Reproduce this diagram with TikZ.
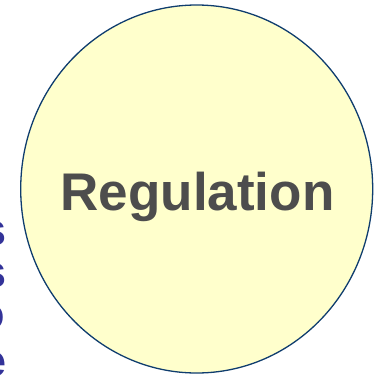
\documentclass[tikz,border=0pt]{standalone}
\usepackage{fontspec}
\usetikzlibrary{shapes.geometric}
\setmainfont{Liberation Sans}
\definecolor{circfill}{HTML}{FFFFCC}
\definecolor{circline}{HTML}{0F3D6E}
\definecolor{labgray}{HTML}{4D4D4D}
\definecolor{sidetext}{HTML}{333399}
\begin{document}
\begin{tikzpicture}[x=1pt,y=1pt,
  sidechar/.style={anchor=base east,inner sep=0pt,text=sidetext,font=\fontsize{45}{50}\selectfont\bfseries}]
\useasboundingbox (0,0) rectangle (382,376);
\clip (0,0) rectangle (382,376);
\node[draw=circline,line width=1.3pt,fill=circfill,ellipse,minimum width=352pt,minimum height=368pt,inner sep=0pt] (c) at (196.7,187) {};
\path (c.center) ++(0.8,-21) node[anchor=base,inner sep=0pt,text=labgray,font=\fontsize{53}{60}\selectfont\bfseries] (reg) {Regulation};
\node[sidechar] (s1) at (6.5,131) {s};
\node[sidechar] (s2) at (6.5,89) {s};
\node[sidechar] (s3) at (5,47) {o};
\node[sidechar] (s4) at (6.5,0) {e};
\end{tikzpicture}
\end{document}
